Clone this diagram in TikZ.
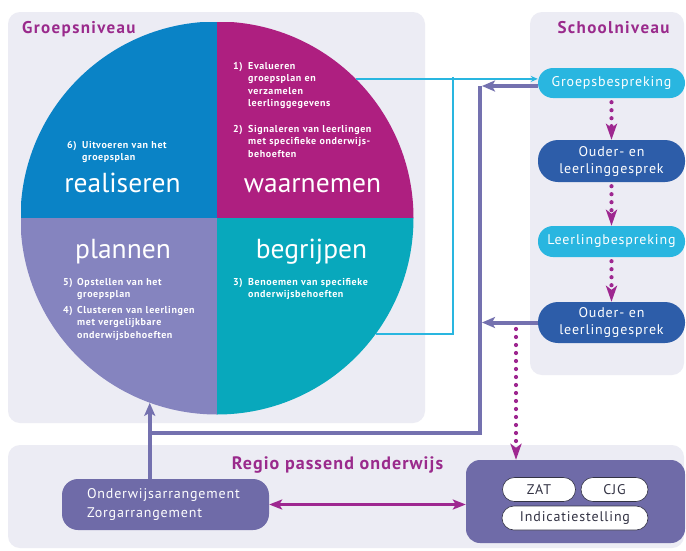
\documentclass[tikz,border=0pt]{standalone}
\usepackage{fontspec}
\setmainfont{PT Sans}
\newfontfamily\spaced[LetterSpace=6]{PT Sans}
\newfontfamily\wide[LetterSpace=8]{PT Sans}
\usetikzlibrary{arrows.meta,calc}
\definecolor{panel}{HTML}{ECECF4}
\definecolor{cblue}{HTML}{0A83C6}
\definecolor{cmag}{HTML}{AE1F80}
\definecolor{clav}{HTML}{8584BF}
\definecolor{cteal}{HTML}{08A8BC}
\definecolor{ccyan}{HTML}{29B6E0}
\definecolor{cdark}{HTML}{2D5DA9}
\definecolor{cpurp}{HTML}{7471AF}
\definecolor{cbox}{HTML}{6F6BA8}
\definecolor{cdot}{HTML}{9E2790}
\definecolor{ctitle}{HTML}{9A2A8C}
\definecolor{ctext}{HTML}{333344}
\begin{document}
\begin{tikzpicture}[x=1pt,y=-1pt,
  panelbox/.style={fill=panel, rounded corners=12pt},
  paneltitle/.style={font=\wide\bfseries\fontsize{17}{20}\selectfont, text=ctitle, inner sep=0pt},
  bigword/.style={font=\fontsize{27.5}{32}\selectfont, text=white, inner sep=0pt, anchor=base},
  numtext/.style={font=\spaced\bfseries\fontsize{10}{12.6}\selectfont, text=white, inner sep=0pt, anchor=base west},
  itemtext/.style={numtext, align=left, text width=150pt},
  schoolnode/.style={text=white, font=\spaced\fontsize{14}{17}\selectfont, align=center, minimum width=147pt, inner sep=0pt},
  whitepill/.style={fill=white, draw=ctext, line width=0.6pt, text=ctext, font=\spaced\fontsize{14}{16}\selectfont, inner sep=0pt, minimum height=24pt},
  cyanline/.style={draw=ccyan, line width=2pt},
  pline/.style={draw=cpurp, line width=4pt},
  parrow/.style={pline, -{Stealth[length=13pt,width=11pt,inset=3pt]}},
  dotarrow/.style={draw=cdot, line width=4.2pt, line cap=round, dash pattern=on 0pt off 8pt, -{Stealth[length=16pt,width=11pt,inset=4pt]}},
]
\useasboundingbox (0,0) rectangle (686,550);
\fill[white] (0,0) rectangle (686,550);

% panels
\fill[panelbox] (8,12) rectangle (425,423);
\fill[panelbox] (530,12) rectangle (684,375);
\fill[panelbox] (8,445) rectangle (684,548);

% circle with four quadrants
\node[circle, minimum size=393pt, inner sep=0pt,
  path picture={
    \fill[cblue] (path picture bounding box.north west) rectangle (path picture bounding box.center);
    \fill[cmag] (path picture bounding box.north east) rectangle (path picture bounding box.center);
    \fill[clav] (path picture bounding box.south west) rectangle (path picture bounding box.center);
    \fill[cteal] (path picture bounding box.south east) rectangle (path picture bounding box.center);
  }] (circ) at (217,218) {};

% titles
\node[paneltitle, anchor=base west] (tgroep) at (22,33) {Groepsniveau};
\node[paneltitle, anchor=base] (tschool) at (613.5,33) {Schoolniveau};
\node[paneltitle, font=\spaced\bfseries\fontsize{18}{21}\selectfont, anchor=base] (tregio) at (337.5,469) {Regio passend onderwijs};

% quadrant words
\node[bigword] (wreal) at (122.5,192) {realiseren};
\node[bigword] (wwaar) at (312.5,192) {waarnemen};
\node[bigword] (wplan) at (123,258) {plannen};
\node[bigword] (wbegr) at (311.5,258) {begrijpen};

% quadrant items
\node[numtext] (n1) at (233,69) {1)};
\node[itemtext] (i1) at (248,69) {Evalueren\\groepsplan en\\verzamelen\\leerlinggegevens};
\node[numtext] (n2) at (233,132) {2)};
\node[itemtext] (i2) at (248,132) {Signaleren van leerlingen\\met specifieke onderwijs-\\behoeften};
\node[numtext] (n6) at (67,148) {6)};
\node[itemtext] (i6) at (82,148) {Uitvoeren van het\\groepsplan};
\node[numtext] (n5) at (63,285) {5)};
\node[itemtext] (i5) at (77,285) {Opstellen van het\\groepsplan};
\node[numtext] (n4) at (63,313) {4)};
\node[itemtext] (i4) at (77,313) {Clusteren van leerlingen\\met vergelijkbare\\onderwijsbehoeften};
\node[numtext] (n3) at (233,285) {3)};
\node[itemtext] (i3) at (248,285) {Benoemen van specifieke\\onderwijsbehoeften};

% school level nodes
\node[schoolnode, fill=ccyan, minimum height=30pt, rounded corners=15pt] (gb) at (611.5,83) {Groepsbespreking};
\node[schoolnode, fill=cdark, minimum height=42pt, rounded corners=20pt] (og1) at (611.5,161) {Ouder- en\\leerlinggesprek};
\node[schoolnode, fill=ccyan, minimum height=31pt, rounded corners=15pt] (lb) at (611.5,241.5) {Leerlingbespreking};
\node[schoolnode, fill=cdark, minimum height=41pt, rounded corners=20pt] (og2) at (611.5,322.5) {Ouder- en\\leerlinggesprek};

% regio level nodes
\node[fill=cbox, rounded corners=16pt, text=white, font=\spaced\fontsize{14}{19}\selectfont,
  text width=157pt, inner xsep=25pt, inner ysep=0pt, align=left, minimum height=51pt] (oa) at (165.5,504.5)
  {Onderwijsarrangement\\Zorgarrangement};
\node[fill=cbox, rounded corners=14pt, minimum width=219pt, minimum height=83pt, inner sep=0pt] (rb) at (575.5,501.5) {};
\node[whitepill, minimum width=73pt, rounded corners=12pt] (zat) at (539,489.5) {ZAT};
\node[whitepill, minimum width=67pt, rounded corners=12pt] (cjg) at (614.5,489.5) {CJG};
\node[whitepill, minimum width=146pt, rounded corners=12pt] (ind) at (575,518) {Indicatiestelling};

% cyan connectors
\coordinate (cj) at (453,77);
\draw[cyanline, -{Stealth[length=7pt,width=6pt]}] (circ.45.8) -- (circ.45.8 -| gb.west);
\draw[cyanline] (circ.-36.9) -| (cj);

% purple connectors
\coordinate (jt) at (480,86);
\coordinate (jb) at (480,433);
\coordinate (jl) at (150,433);
\draw[pline, line join=miter] (jt) -- (jb) -- (jl);
\draw[parrow, shorten >=2pt] (gb.west |- jt) -- (jt);
\draw[parrow, shorten >=2pt] (og2.west) -- (og2.west -| jt);
\draw[parrow] (circ.-110 |- oa.north) -- (circ.-110);

% dotted arrows
\draw[dotarrow, shorten <=4pt] (gb.south) -- (og1.north);
\draw[dotarrow, shorten <=4pt] (og1.south) -- (lb.north);
\draw[dotarrow, shorten <=4pt] (lb.south) -- (og2.north);
\coordinate (ds) at (516,329);
\draw[dotarrow] (ds) -- (ds |- rb.north);

% double arrow
\draw[draw=cdot, line width=3pt, {Stealth[length=13pt,width=10pt,inset=3pt]}-{Stealth[length=13pt,width=10pt,inset=3pt]}] (oa.east) -- (oa.east -| rb.west);
\end{tikzpicture}
\end{document}
